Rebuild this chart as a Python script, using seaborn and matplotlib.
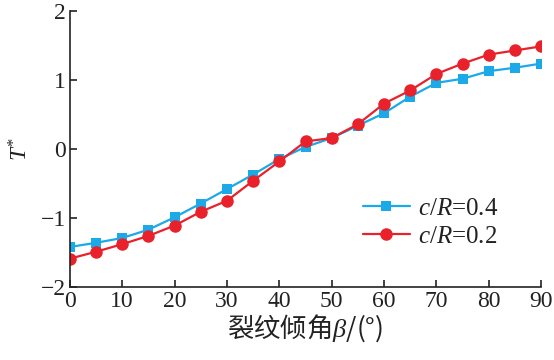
import matplotlib
matplotlib.use("Agg")
import matplotlib.pyplot as plt
import seaborn as sns
import pandas as pd

beta = [0, 5, 10, 15, 20, 25, 30, 35, 40, 45, 50, 55, 60, 65, 70, 75, 80, 85, 90]
t_04 = [-1.42, -1.36, -1.29, -1.17, -0.99, -0.79, -0.58, -0.37, -0.145, 0.03,
        0.16, 0.34, 0.52, 0.76, 0.96, 1.02, 1.13, 1.18, 1.24]
t_02 = [-1.59, -1.49, -1.38, -1.26, -1.11, -0.91, -0.75, -0.46, -0.18, 0.11,
        0.16, 0.36, 0.66, 0.85, 1.09, 1.24, 1.37, 1.43, 1.49]
labels = ["$c/R$=0.4", "$c/R$=0.2"]
xticks = list(range(0, 91, 10))
yticks = [-2, -1, 0, 1, 2]

sns.set_theme(style="ticks")
plt.rcParams['font.family'] = ['Liberation Serif', 'Noto Sans CJK SC', 'DejaVu Sans']
plt.rcParams['mathtext.fontset'] = 'custom'
plt.rcParams['mathtext.rm'] = 'Liberation Serif'
plt.rcParams['mathtext.it'] = 'Liberation Serif:italic'

fig = plt.figure(figsize=(5.54, 3.6), dpi=100)
ax = fig.add_axes([0.126, 0.203, 0.851, 0.766])

df1 = pd.DataFrame({"beta": beta, "T": t_04})
df2 = pd.DataFrame({"beta": beta, "T": t_02})
sns.lineplot(data=df1, x="beta", y="T", ax=ax, color="#1BA9E8", marker="s",
             markersize=7.5, markeredgewidth=0, linewidth=1.6, label=labels[0])
sns.lineplot(data=df2, x="beta", y="T", ax=ax, color="#E8212B", marker="o",
             markersize=9, markeredgewidth=0, linewidth=1.6, label=labels[1])

ax.set_xlim(0, 90)
ax.set_ylim(-2, 2)
ax.set_xticks(xticks)
ax.set_yticks(yticks)
ax.set_yticklabels(["\u22122", "\u22121", "0", "1", "2"])
ax.tick_params(direction="in", length=5, width=1.2, labelsize=17, colors="#222222", pad=3)
for s in ["top", "right"]:
    ax.spines[s].set_visible(False)
for s in ["left", "bottom"]:
    ax.spines[s].set_linewidth(1.2)
    ax.spines[s].set_color("#222222")

ax.set_xlabel("裂纹倾角$\\mathit{\\beta}$/(°)", fontsize=19, color="#222222",
              family=['Noto Sans CJK SC', 'Liberation Serif'], labelpad=0)
ax.set_ylabel("$T^{*}$", fontsize=17, color="#222222", labelpad=6)

leg = ax.legend(loc="upper left", bbox_to_anchor=(0.6, 0.36), frameon=False,
                fontsize=18, handlelength=1.9, handletextpad=0.3, labelspacing=0.2,
                borderaxespad=0)
for t in leg.get_texts():
    t.set_color("#222222")

fig.savefig("out.png", dpi=100)
